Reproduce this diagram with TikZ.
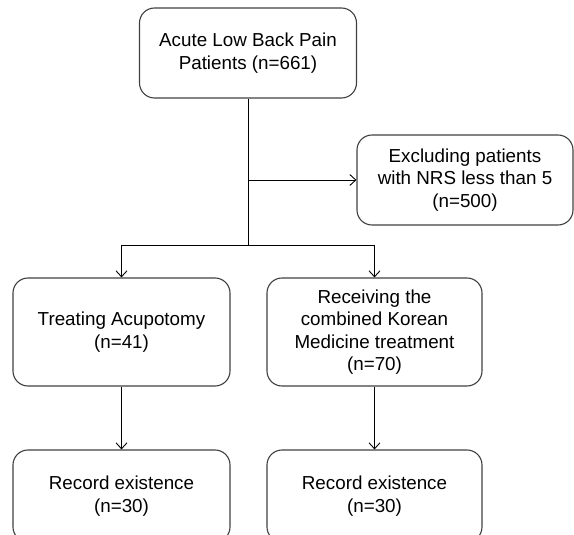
\documentclass[tikz,border=0pt]{standalone}
\usepackage{fontspec}
\setmainfont{Liberation Sans}
\usetikzlibrary{positioning,arrows.meta}

\begin{document}
\begin{tikzpicture}[x=1pt, y=-1pt, >={Straight Barb[length=6pt,width=11pt]},
    every box/.style={draw=black!75, line width=1.1pt, rounded corners=15pt,
      align=center, inner sep=0pt, minimum width=217pt,
      font=\fontsize{18.8}{22.5}\selectfont},
    flow/.style={line width=0.9pt}]

  \useasboundingbox (0,0) rectangle (574,535);

  \node [every box, minimum height=90pt] (patients) at (248,53)
    {Acute Low Back Pain\\Patients (n=661)};
  \node [every box, minimum width=216pt, minimum height=90pt] (exclude) at (465,180)
    {Excluding patients\\with NRS less than 5\\(n=500)};

  \node [every box, minimum height=108pt] (acupotomy) at (121.5,332)
    {Treating Acupotomy\\(n=41)};
  \node [every box, minimum width=215pt, minimum height=108pt] (combined) at (374.5,332)
    {Receiving the\\combined Korean\\Medicine treatment\\(n=70)};

  \node [every box, minimum height=92pt] (record-1) at (121.5,496)
    {Record existence\\(n=30)};
  \node [every box, minimum width=215pt, minimum height=92pt] (record-2) at (374.5,496)
    {Record existence\\(n=30)};

  \coordinate (side) at (248,180);
  \coordinate (split) at (248,245);

  \draw [flow] (patients) -- (split);
  \draw [flow, ->] (side) -- (exclude);

  \foreach \g in {acupotomy, combined}
    \draw [flow, ->] (split) -| (\g);

  \draw [flow, ->] (acupotomy) -- (record-1);
  \draw [flow, ->] (combined) -- (record-2);

\end{tikzpicture}
\end{document}
